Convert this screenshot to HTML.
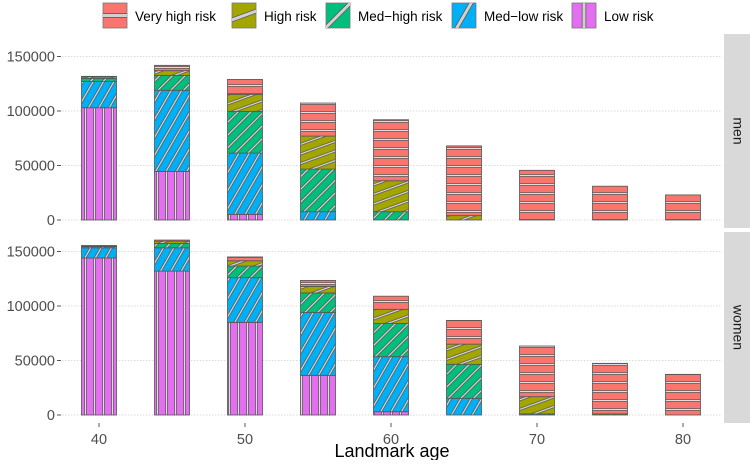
<!DOCTYPE html>
<html><head><meta charset="utf-8"><style>
body{margin:0;background:#fff;font-family:"Liberation Sans",sans-serif}
svg text{font-family:"Liberation Sans",sans-serif}
</style></head><body>
<svg id="c" width="750" height="460" xmlns="http://www.w3.org/2000/svg">
<defs id="defs"></defs>
<g id="legend"></g>
<g id="plot"></g>
</svg>
<script>
const ages=[40,45,50,55,60,65,70,75,80];
const levels=["Low risk","Med-low risk","Med-high risk","High risk","Very high risk"];
// cumulative tops per level (bottom->top), men
const menLow=[103000,44600,5200,0,0,0,0,0,0];
const menMedLow=[127000,119000,61400,7600,0,0,0,0,0];
const menMedHigh=[130000,132700,99700,46700,7600,0,0,0,0];
const menHigh=[131400,137000,115300,77000,36000,4000,0,0,0];
const menVeryHigh=[131800,141900,129000,107300,92000,68000,45600,31000,23000];
const womenLow=[144000,132000,85000,36400,3000,0,0,0,0];
const womenMedLow=[153400,153400,126000,94000,53500,15300,0,0,0];
const womenMedHigh=[154500,157400,136600,112000,84000,46500,1000,0,0];
const womenHigh=[155000,159500,141500,118000,97000,65000,16800,1000,0];
const womenVeryHigh=[155500,160500,145000,123500,109000,86800,63300,47400,37300];
const yTicks=[0,50000,100000,150000];
const xTicks=[40,50,60,70,80];
const colors=["#E36EF0","#00B0F6","#00BF7D","#A3A500","#F8766D"];
const angles=[0,30,45,70,90]; // pattern rotation
const NS="http://www.w3.org/2000/svg";
function el(t,a,p){const e=document.createElementNS(NS,t);for(const k in a)e.setAttribute(k,a[k]);if(p)p.appendChild(e);return e;}
const defs=document.getElementById('defs');
colors.forEach((c,i)=>{
 const p=el('pattern',{id:'p'+i,width:9,height:9,patternUnits:'userSpaceOnUse',patternTransform:'rotate('+angles[i]+')'},defs);
 el('rect',{width:9,height:9,fill:c},p);
 el('line',{x1:4.5,y1:-1,x2:4.5,y2:10,stroke:'#444',"stroke-width":2.6},p);
 el('line',{x1:4.5,y1:-1,x2:4.5,y2:10,stroke:'#ddd',"stroke-width":1.3},p);
});
const xS=a=>99+(a-40)*14.6;
const panels=[{name:'men',base:220,data:[menLow,menMedLow,menMedHigh,menHigh,menVeryHigh],top:34,bot:228},
 {name:'women',base:415,data:[womenLow,womenMedLow,womenMedHigh,womenHigh,womenVeryHigh],top:232,bot:423}];
const plot=document.getElementById('plot');
const k=163.5/150000;
panels.forEach(pn=>{
 const g=el('g',{},plot);
 
 
 const yS=v=>pn.base-v*k;
 yTicks.forEach(t=>{
  const ln=el('line',{x1:62,x2:722,y1:yS(t),y2:yS(t),stroke:'#d0d0d0',"stroke-width":0.8,"stroke-dasharray":'1.5,1.5'},g);
  
  
  el('line',{x1:57,x2:61,y1:yS(t),y2:yS(t),stroke:'#555'},g);
  const tx=el('text',{x:55,y:yS(t)+5,"text-anchor":'end',"font-size":14.5,fill:'#4d4d4d'},g);
  tx.textContent=t;
  
  
 });
 ages.forEach((a,j)=>{
  let prev=0;
  for(let i=0;i<5;i++){
   const v=pn.data[i][j];
   if(v>prev){
    const r=el('rect',{x:xS(a)-17.5,y:yS(v),width:35,height:yS(prev)-yS(v),fill:'url(#p'+i+')',stroke:'#555',"stroke-width":0.8},g);
    
    
    prev=v;
   }
  }
 });
 const s=el('rect',{x:724,y:pn.top,width:26,height:pn.bot-pn.top,fill:'#d9d9d9'},g);
 
 
 const cy=(pn.top+pn.bot)/2;
 const st=el('text',{x:737,y:cy,"text-anchor":'middle',"font-size":14,fill:'#1a1a1a',transform:'rotate(90 737 '+cy+')',"dominant-baseline":'middle'},g);
 st.textContent=pn.name;
 
 
});
xTicks.forEach(t=>{
 el('line',{x1:xS(t),x2:xS(t),y1:423,y2:427,stroke:'#555'},plot);
 const tx=el('text',{x:xS(t),y:444,"text-anchor":'middle',"font-size":14.5,fill:'#4d4d4d'},plot);
 tx.textContent=t;
 
 
});
const xt=el('text',{x:392,y:457,"text-anchor":'middle',"font-size":18,fill:'#000'},plot);
xt.textContent='Landmark age';


const leg=document.getElementById('legend');
const items=[[4,103,'Very high risk'],[3,232,'High risk'],[2,326,'Med\u2212high risk'],[1,452,'Med\u2212low risk'],[0,572,'Low risk']];
items.forEach(([i,x,lab])=>{
 const g=el('g',{},leg);
 
 
 el('rect',{x:x,y:3,width:24,height:25,fill:colors[i],stroke:'#777',"stroke-width":0.8},g);
 const cx=x+12,cy=15.5;
 const cp='cl'+i;
 const clip=el('clipPath',{id:cp},defs);el('rect',{x:x,y:3,width:24,height:25},clip);
 const lg=el('g',{"clip-path":'url(#'+cp+')'},g);
 el('line',{x1:cx,y1:cy-20,x2:cx,y2:cy+20,stroke:'#555',"stroke-width":4.5,transform:'rotate('+angles[i]+' '+cx+' '+cy+')'},lg);
 el('line',{x1:cx,y1:cy-20,x2:cx,y2:cy+20,stroke:'#d0d0d0',"stroke-width":3,transform:'rotate('+angles[i]+' '+cx+' '+cy+')'},lg);
 const t=el('text',{x:x+32,y:21,"font-size":13.5,fill:'#000'},g);
 t.textContent=lab;
});
</script>
</body></html>
